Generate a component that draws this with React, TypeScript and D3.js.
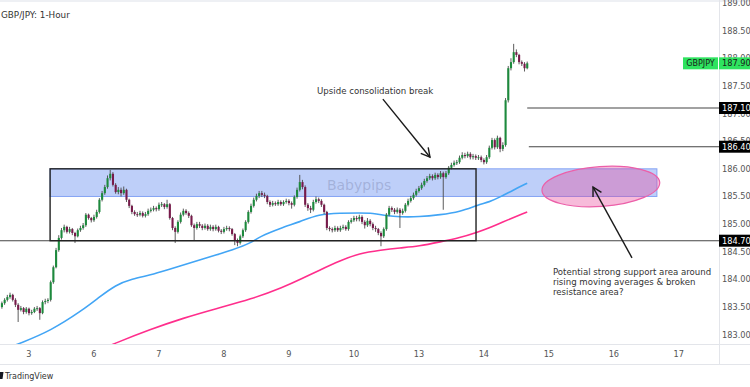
import React from 'react';
import * as d3 from 'd3';

const W = 750;
const H = 387;
const PLOT_R = 719;
const PLOT_B = 344;
const FONT = "'DejaVu Sans', 'Liberation Sans', sans-serif";

const TITLE = 'GBP/JPY: 1-Hour';
const SYMBOL = 'GBPJPY';
const LAST_PRICE = '187.908';

const FIRST_OPEN = 183.5;
const CLOSES = [
  183.57, 183.63, 183.68, 183.72, 183.63, 183.54, 183.45, 183.48, 183.41, 183.47,
  183.39, 183.41, 183.47, 183.48, 183.39, 183.59, 183.61, 183.63, 183.95, 184.22,
  184.53, 184.75, 184.89, 184.95, 184.86, 184.91, 184.84, 184.78, 184.89, 184.93,
  184.98, 185.17, 185.11, 185.07, 185.13, 185.22, 185.44, 185.56, 185.67, 185.83,
  185.91, 185.71, 185.58, 185.62, 185.56, 185.62, 185.44, 185.33, 185.22, 185.18,
  185.17, 185.2, 185.15, 185.18, 185.24, 185.26, 185.29, 185.27, 185.35, 185.36,
  185.31, 185.36, 185.11, 184.93, 184.86, 185.04, 185.17, 185.24, 185.2, 185.15,
  184.98, 184.93, 185.0, 184.97, 184.93, 184.97, 184.91, 184.95, 184.91, 184.95,
  184.88, 184.86, 184.91, 184.93, 184.91, 184.82, 184.71, 184.66, 184.78, 184.89,
  185.04, 185.22, 185.33, 185.44, 185.51, 185.56, 185.53, 185.51, 185.4, 185.35,
  185.38, 185.36, 185.4, 185.36, 185.4, 185.42, 185.38, 185.35, 185.49, 185.62,
  185.76, 185.67, 185.35, 185.29, 185.26, 185.4, 185.45, 185.42, 185.35, 185.22,
  184.93, 184.91, 184.89, 184.93, 184.89, 184.93, 184.95, 184.91, 185.04, 185.07,
  185.11, 185.09, 185.13, 185.04, 184.98, 185.06, 185.0, 184.93, 184.91, 184.84,
  184.78, 184.91, 185.17, 185.29, 185.26, 185.22, 185.26, 185.2, 185.24, 185.35,
  185.42, 185.47, 185.53, 185.6, 185.65, 185.71, 185.78, 185.83, 185.87, 185.83,
  185.89, 185.85, 185.92, 185.85, 185.92, 186.02, 186.07, 186.11, 186.12, 186.2,
  186.25, 186.23, 186.27, 186.21, 186.23, 186.2, 186.21, 186.16, 186.12, 186.21,
  186.38, 186.52, 186.39, 186.56, 186.36, 186.43, 187.24, 187.82, 187.93, 188.11,
  188.06, 187.93, 187.9, 187.82, 187.908,
];
const HIGHS = [
  183.6, 183.66, 183.72, 183.76, 183.74, 183.66, 183.57, 183.52, 183.5, 183.5,
  183.49, 183.45, 183.5, 183.52, 183.5, 183.62, 183.65, 183.66, 183.98, 184.25,
  184.57, 184.8, 184.93, 184.99, 184.97, 184.95, 184.93, 184.86, 184.92, 184.97,
  185.02, 185.2, 185.19, 185.13, 185.17, 185.26, 185.47, 185.6, 185.71, 185.88,
  185.98, 185.94, 185.74, 185.67, 185.66, 185.68, 185.64, 185.46, 185.35, 185.25,
  185.22, 185.24, 185.23, 185.22, 185.28, 185.3, 185.33, 185.32, 185.39, 185.4,
  185.38, 185.44, 185.38, 185.13, 184.96, 185.07, 185.21, 185.28, 185.27, 185.23,
  185.17, 185.01, 185.04, 185.04, 185.0, 185.01, 185.0, 184.99, 184.98, 184.99,
  184.97, 184.91, 184.95, 184.97, 184.96, 184.93, 184.84, 184.74, 184.81, 184.92,
  185.07, 185.25, 185.37, 185.48, 185.55, 185.6, 185.6, 185.57, 185.53, 185.43,
  185.42, 185.41, 185.44, 185.43, 185.43, 185.46, 185.45, 185.41, 185.52, 185.66,
  185.89, 185.8, 185.7, 185.38, 185.33, 185.44, 185.5, 185.48, 185.45, 185.37,
  185.24, 184.96, 184.94, 184.97, 184.96, 184.97, 184.99, 184.98, 185.07, 185.11,
  185.15, 185.15, 185.17, 185.16, 185.07, 185.11, 185.09, 185.03, 184.97, 184.93,
  184.87, 184.94, 185.2, 185.33, 185.32, 185.29, 185.3, 185.29, 185.28, 185.38,
  185.46, 185.51, 185.57, 185.64, 185.69, 185.75, 185.82, 185.87, 185.91, 185.9,
  185.93, 185.92, 185.96, 185.95, 185.96, 186.05, 186.11, 186.15, 186.16, 186.24,
  186.3, 186.29, 186.31, 186.3, 186.27, 186.26, 186.25, 186.24, 186.19, 186.25,
  186.42, 186.56, 186.55, 186.6, 186.58, 186.48, 187.28, 187.86, 188.0, 188.26,
  188.16, 188.08, 187.96, 187.93, 187.94,
];
const LOWS = [
  183.47, 183.54, 183.6, 183.65, 183.6, 183.5, 183.23, 183.42, 183.37, 183.38,
  183.35, 183.36, 183.39, 183.43, 183.27, 183.37, 183.55, 183.57, 183.6, 183.92,
  184.2, 184.5, 184.72, 184.85, 184.83, 184.83, 184.8, 184.66, 184.76, 184.86,
  184.9, 184.95, 185.08, 185.03, 185.04, 185.1, 185.19, 185.41, 185.53, 185.64,
  185.79, 185.68, 185.55, 185.54, 185.5, 185.53, 185.4, 185.29, 185.18, 185.15,
  185.13, 185.14, 185.12, 185.12, 185.15, 185.21, 185.23, 185.23, 185.24, 185.31,
  185.27, 185.28, 185.08, 184.89, 184.66, 184.83, 185.01, 185.14, 185.17, 185.11,
  184.95, 184.71, 184.9, 184.93, 184.89, 184.9, 184.88, 184.88, 184.87, 184.88,
  184.85, 184.82, 184.83, 184.88, 184.87, 184.79, 184.62, 184.6, 184.63, 184.75,
  184.86, 185.01, 185.19, 185.3, 185.41, 185.47, 185.49, 185.47, 185.36, 185.31,
  185.32, 185.33, 185.33, 185.33, 185.33, 185.37, 185.34, 185.28, 185.32, 185.46,
  185.59, 185.63, 185.31, 185.24, 185.2, 185.23, 185.37, 185.38, 185.31, 185.18,
  184.89, 184.87, 184.85, 184.86, 184.86, 184.86, 184.9, 184.88, 184.88, 185.01,
  185.04, 185.05, 185.05, 185.0, 184.92, 184.95, 184.96, 184.89, 184.86, 184.8,
  184.6, 184.75, 184.88, 185.14, 185.22, 185.18, 185.19, 184.93, 185.17, 185.21,
  185.32, 185.39, 185.44, 185.5, 185.57, 185.62, 185.68, 185.75, 185.8, 185.79,
  185.8, 185.81, 185.82, 185.26, 185.82, 185.89, 185.99, 186.04, 186.07, 186.09,
  186.17, 186.19, 186.2, 186.17, 186.17, 186.16, 186.16, 186.12, 186.08, 186.09,
  186.18, 186.35, 186.35, 186.36, 186.3, 186.32, 186.4, 187.2, 187.78, 187.9,
  188.02, 187.89, 187.86, 187.76, 187.8,
];

// moving averages sampled along the bars (bar index, price)
const MA_FAST_IDX = [0, 7, 18, 30, 36, 42, 48, 55, 61, 67, 73, 79, 85, 92, 95, 103, 110, 117, 125, 132, 137, 142, 147, 154, 162, 169, 176, 180, 184, 189, 194];
const MA_FAST_VAL = [182.72, 182.85, 183.07, 183.45, 183.68, 183.9, 184.01, 184.08, 184.17, 184.26, 184.35, 184.44, 184.53, 184.66, 184.77, 184.93, 185.04, 185.18, 185.2, 185.2, 185.2, 185.15, 185.13, 185.13, 185.17, 185.22, 185.35, 185.4, 185.49, 185.62, 185.74];
const MA_SLOW_IDX = [36, 41, 55, 67, 79, 92, 104, 111, 117, 125, 132, 140, 147, 154, 162, 169, 176, 180, 184, 194];
const MA_SLOW_VAL = [182.72, 182.83, 183.1, 183.3, 183.47, 183.64, 183.86, 184.02, 184.16, 184.34, 184.47, 184.53, 184.57, 184.6, 184.68, 184.75, 184.86, 184.93, 185.02, 185.22];

const DAY_LABELS = ['3', '6', '7', '8', '9', '10', '13', '14', '15', '16', '17'];
const DAY_START_BAR = [10, 34, 58, 82, 106, 130, 154, 178, 202, 226, 250];

const PRICE_TICKS = [183, 183.5, 184, 184.5, 185, 185.5, 186, 186.5, 187, 187.5, 188, 188.5, 189];
const LEVELS = [187.1, 186.4, 184.7];
const ZONE_TOP = 186.0;
const ZONE_BOTTOM = 185.5;
const BOX_BOTTOM = 184.7;

function arrowHead(x1: number, y1: number, x2: number, y2: number, len = 10, ang = 0.5) {
  const a = Math.atan2(y2 - y1, x2 - x1);
  const p1 = [x2 - len * Math.cos(a - ang), y2 - len * Math.sin(a - ang)];
  const p2 = [x2 - len * Math.cos(a + ang), y2 - len * Math.sin(a + ang)];
  return `M${p1[0]},${p1[1]}L${x2},${y2}L${p2[0]},${p2[1]}`;
}

export default function App() {
  const x = d3.scaleLinear().domain([0, 194]).range([1.9, 527.2]);
  const y = d3.scaleLinear().domain([187.1, 184.7]).range([108, 240.7]);

  const candles = CLOSES.map((c, i) => ({
    i,
    o: i === 0 ? FIRST_OPEN : CLOSES[i - 1],
    h: HIGHS[i],
    l: LOWS[i],
    c,
  }));

  const maLine = d3
    .line<[number, number]>()
    .x((d) => x(d[0]))
    .y((d) => y(d[1]))
    .curve(d3.curveBasis);
  const fast = maLine(MA_FAST_IDX.map((v, k) => [v, MA_FAST_VAL[k]]) as [number, number][]) || '';
  const slow = maLine(MA_SLOW_IDX.map((v, k) => [v, MA_SLOW_VAL[k]]) as [number, number][]) || '';

  // annotations in data space
  const a1 = { x1: x(140.7), y1: y(187.26), x2: x(158.1), y2: y(186.21) };
  const a2 = { x1: x(232.7), y1: y(184.39), x2: x(218.3), y2: y(185.67) };
  const ell = { cx: x(221.2), cy: y(185.68), rx: x(21.8) - x(0), ry: y(185.32) - y(185.68) };
  const zoneL = x(17.8);
  const zoneR = x(241.9);
  const boxR = x(175.1);

  const axisText = '#555';

  return (
    <div style={{ position: 'absolute', left: 0, top: 0 }}>
      <svg width={W} height={H} viewBox={`0 0 ${W} ${H}`} style={{ display: 'block', fontFamily: FONT }}>
        <rect x={0} y={0} width={W} height={H} fill="#ffffff" />
        <rect x={0} y={0} width={W} height={2} fill="#eef0f4" />
        <defs>
          <clipPath id="plot">
            <rect x={0} y={0} width={PLOT_R} height={PLOT_B} />
          </clipPath>
        </defs>

        {/* title */}
        <text x={1} y={17.5} fontSize={8.8} fill="#333">{TITLE}</text>

        <g clipPath="url(#plot)">
          {/* zone band */}
          <rect
            x={zoneL}
            y={y(ZONE_TOP)}
            width={zoneR - zoneL}
            height={y(ZONE_BOTTOM) - y(ZONE_TOP)}
            fill="rgba(100,140,240,0.42)"
            stroke="#86a4f4"
            strokeWidth={1}
          />
          <text
            x={x(131.9)}
            y={y(185.71)}
            fontSize={14}
            textAnchor="middle"
            dominantBaseline="central"
            fill="rgba(110,120,160,0.35)"
          >
            Babypips
          </text>

          {/* moving averages */}
          <path d={fast} fill="none" stroke="#42a5f5" strokeWidth={1.6} />
          <path d={slow} fill="none" stroke="#ff2e8c" strokeWidth={1.6} />

          {/* level lines */}
          <line x1={0} x2={PLOT_R} y1={y(LEVELS[2])} y2={y(LEVELS[2])} stroke="#444" strokeWidth={1.1} />
          <line x1={x(194)} x2={PLOT_R} y1={y(LEVELS[0])} y2={y(LEVELS[0])} stroke="#444" strokeWidth={1.1} />
          <line x1={x(194.6)} x2={PLOT_R} y1={y(LEVELS[1])} y2={y(LEVELS[1])} stroke="#444" strokeWidth={1.1} />

          {/* candles */}
          {candles.map((d) => {
            const cx = x(d.i);
            const up = d.c >= d.o;
            const top = y(Math.max(d.o, d.c));
            const bot = y(Math.min(d.o, d.c));
            return (
              <g key={d.i}>
                <line x1={cx} x2={cx} y1={y(d.h)} y2={y(d.l)} stroke="#4a4a4a" strokeWidth={0.9} />
                <rect
                  x={cx - 1}
                  y={top}
                  width={2.1}
                  height={Math.max(1, bot - top)}
                  fill={up ? '#1d8a3d' : '#771a4a'}
                />
              </g>
            );
          })}

          {/* consolidation box */}
          <rect
            x={zoneL}
            y={y(ZONE_TOP)}
            width={boxR - zoneL}
            height={y(BOX_BOTTOM) - y(ZONE_TOP)}
            fill="none"
            stroke="#222"
            strokeWidth={1.4}
          />

          {/* ellipse */}
          <ellipse
            cx={ell.cx}
            cy={ell.cy}
            rx={ell.rx}
            ry={ell.ry}
            transform={`rotate(-4 ${ell.cx} ${ell.cy})`}
            fill="rgba(232,60,150,0.35)"
            stroke="#ec5fa8"
            strokeWidth={1.2}
          />

          {/* arrows */}
          <line x1={a1.x1} y1={a1.y1} x2={a1.x2} y2={a1.y2} stroke="#1a1a1a" strokeWidth={1.4} />
          <path d={arrowHead(a1.x1, a1.y1, a1.x2, a1.y2)} fill="none" stroke="#1a1a1a" strokeWidth={1.4} />
          <line x1={a2.x1} y1={a2.y1} x2={a2.x2} y2={a2.y2} stroke="#1a1a1a" strokeWidth={1.4} />
          <path d={arrowHead(a2.x1, a2.y1, a2.x2, a2.y2)} fill="none" stroke="#1a1a1a" strokeWidth={1.4} />

          {/* annotation texts */}
          <text x={x(116.4)} y={y(187.35)} fontSize={8.6} fill="#333">Upside consolidation break</text>
          <text x={x(203.5)} fontSize={8.6} fill="#333">
            <tspan x={x(203.5)} y={y(184.08)}>Potential strong support area around</tspan>
            <tspan x={x(203.5)} y={y(183.9)}>rising moving averages &amp; broken</tspan>
            <tspan x={x(203.5)} y={y(183.72)}>resistance area?</tspan>
          </text>
        </g>

        {/* axes frame */}
        <line x1={PLOT_R + 0.5} x2={PLOT_R + 0.5} y1={0} y2={364} stroke="#e3e5ea" />
        <line x1={0} x2={W} y1={PLOT_B + 0.5} y2={PLOT_B + 0.5} stroke="#e3e5ea" />
        <line x1={0} x2={W} y1={364.5} y2={364.5} stroke="#e3e5ea" />

        {/* price ticks */}
        {PRICE_TICKS.map((p) => (
          <text key={p} x={722} y={y(p)} fontSize={8.2} fill={axisText} dominantBaseline="central">
            {p.toFixed(3)}
          </text>
        ))}

        {/* level labels */}
        {LEVELS.map((p) => (
          <g key={p}>
            <rect x={719} y={y(p) - 6} width={31} height={12} fill="#000" />
            <text x={722} y={y(p)} fontSize={8.2} fill="#fff" dominantBaseline="central">
              {p.toFixed(3)}
            </text>
          </g>
        ))}

        {/* last price label */}
        <g>
          <rect x={683} y={y(187.908) - 6} width={35} height={12} fill="#2ee35f" />
          <text x={700.5} y={y(187.908)} fontSize={8} fill="#1a1a1a" textAnchor="middle" dominantBaseline="central">
            {SYMBOL}
          </text>
          <rect x={719} y={y(187.908) - 6} width={31} height={12} fill="#2ee35f" />
          <text x={722} y={y(187.908)} fontSize={8.2} fill="#1a1a1a" dominantBaseline="central">
            {LAST_PRICE}
          </text>
        </g>

        {/* time ticks */}
        {DAY_LABELS.map((lab, k) => (
          <text
            key={lab}
            x={x(DAY_START_BAR[k])}
            y={354}
            fontSize={8.2}
            fill={axisText}
            textAnchor="middle"
            dominantBaseline="central"
          >
            {lab}
          </text>
        ))}

        {/* TradingView mark */}
        <path d="M0,372 L3.5,372 L2.5,379 L0,379 Z" fill="#131722" />
        <text x={5} y={379} fontSize={8} fill="#333">TradingView</text>
      </svg>
    </div>
  );
}
